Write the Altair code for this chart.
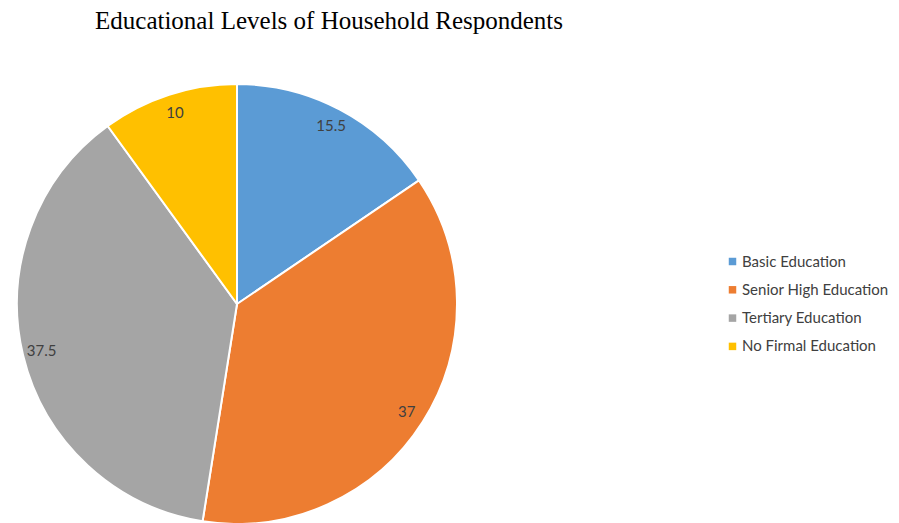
import altair as alt
import pandas as pd

categories = ["Basic Education", "Senior High Education", "Tertiary Education", "No Firmal Education"]
values = [15.5, 37, 37.5, 10]
labels = ["15.5", "37", "37.5", "10"]
colors = ["#5B9BD5", "#ED7D31", "#A5A5A5", "#FFC000"]
title_text = "Educational Levels of Household Respondents"

df = pd.DataFrame({
    "category": categories,
    "value": values,
    "label": labels,
    "order": list(range(len(categories))),
})

CX, CY = 229, 296

base = alt.Chart(df).encode(
    theta=alt.Theta("value:Q", stack=True),
    order=alt.Order("order:Q"),
    x=alt.value(CX),
    y=alt.value(CY),
)

arcs = base.mark_arc(outerRadius=220, stroke="white", strokeWidth=2).encode(
    color=alt.Color(
        "category:N",
        scale=alt.Scale(domain=categories, range=colors),
        legend=alt.Legend(
            title=None,
            orient="none",
            legendX=717,
            legendY=246,
            symbolType="square",
            symbolSize=56,
            symbolStrokeWidth=0,
            labelFont="Lato",
            labelFontSize=15,
            labelColor="#404040",
            rowPadding=12.3,
            labelOffset=2,
        ),
    )
)

texts = base.mark_text(radius=201, font="Lato", fontSize=15, color="#404040").encode(
    text="label:N"
)

title = alt.Chart(pd.DataFrame({"t": [title_text]})).mark_text(
    font="Liberation Serif", fontSize=25, color="#000000", align="center", baseline="alphabetic"
).encode(text="t:N", x=alt.value(321), y=alt.value(21))

chart = alt.layer(arcs, texts, title).properties(
    width=883, height=520, autosize=alt.AutoSizeParams(type="none"), padding=0
).configure_view(stroke=None)

chart.save("out.html", embed_options={"renderer": "svg", "actions": False})
